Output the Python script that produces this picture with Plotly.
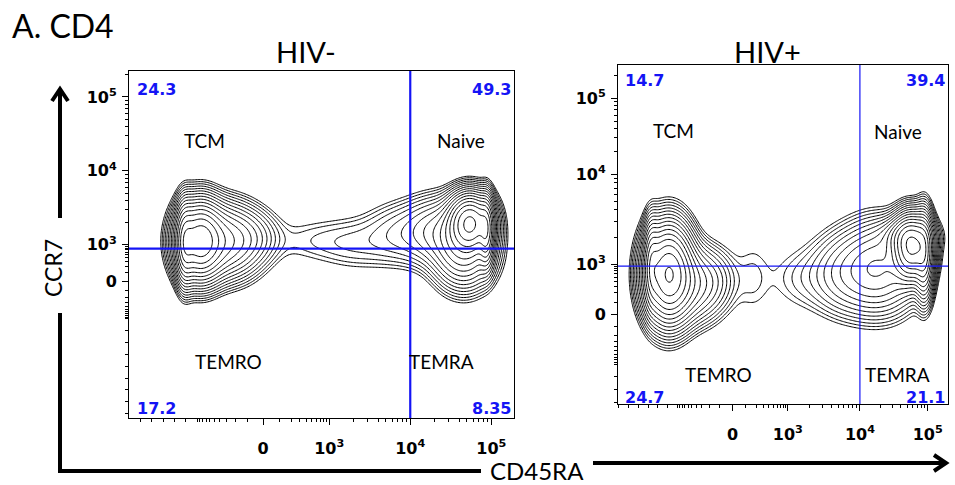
import numpy as np
import plotly.graph_objects as go

W, H = 955, 485

# ---------------- axis data (display units) ----------------
tick_text = ["0", "10<sup>3</sup>", "10<sup>4</sup>", "10<sup>5</sup>"]
left_x_ticks = [2.185, 3.0, 4.0, 5.0]
left_y_ticks = [2.5, 3.0, 4.0, 5.0]
right_x_ticks = [2.21, 3.0, 4.03, 5.0]
right_y_ticks = [2.375, 3.0, 4.125, 5.075]
left_x_range = [0.53, 5.28]
left_y_range = [0.66, 5.35]
right_x_range = [0.57, 5.29]
right_y_range = [1.25, 5.49]

# quadrant gates (x, y)
left_gate = [4.0, 2.95]
right_gate = [4.03, 2.975]

# quadrant frequencies: TL, TR, BL, BR
left_freq = ["24.3", "49.3", "17.2", "8.35"]
right_freq = ["14.7", "39.4", "24.7", "21.1"]
pop_labels = ["TCM", "Naive", "TEMRO", "TEMRA"]
panel_titles = ["HIV-", "HIV+"]

# ---------------- population components (display units) ----------------
left_cx = [1.22, 1.40, 1.68, 2.05, 2.80, 3.35, 3.85, 4.35, 4.74, 4.66, 4.94]
left_cy = [3.02, 3.05, 3.05, 3.10, 3.06, 3.02, 3.15, 3.18, 3.30, 2.95, 3.18]
left_sx = [0.06, 0.15, 0.25, 0.20, 0.35, 0.30, 0.25, 0.25, 0.14, 0.20, 0.05]
left_sy = [0.28, 0.27, 0.26, 0.20, 0.19, 0.22, 0.24, 0.25, 0.20, 0.28, 0.24]
left_w = [0.45, 1.00, 0.35, 0.05, 0.015, 0.022, 0.04, 0.13, 1.20, 0.30, 0.55]

right_cx = [1.05, 1.29, 1.60, 1.95, 2.50, 3.20, 3.80, 4.30, 4.77, 4.95, 4.70]
right_cy = [3.00, 2.88, 2.75, 2.80, 2.83, 2.82, 2.88, 2.95, 3.20, 3.10, 3.35]
right_sx = [0.06, 0.18, 0.25, 0.20, 0.17, 0.30, 0.28, 0.30, 0.14, 0.07, 0.20]
right_sy = [0.28, 0.31, 0.25, 0.22, 0.32, 0.25, 0.28, 0.30, 0.21, 0.28, 0.12]
right_w = [0.25, 1.00, 0.18, 0.03, 0.0115, 0.015, 0.07, 0.20, 1.00, 0.40, 0.20]


def density(xr, yr, cx, cy, sx, sy, w, n=260):
    gx = np.linspace(xr[0], xr[1], n)
    gy = np.linspace(yr[0], yr[1], n)
    X, Y = np.meshgrid(gx, gy)
    d = np.zeros_like(X)
    for a, b, s, t, k in zip(cx, cy, sx, sy, w):
        d += k * np.exp(-((X - a) ** 2 / (2 * s * s) + (Y - b) ** 2 / (2 * t * t)))
    z = np.log10(np.maximum(d / d.max(), 1e-8))
    return gx, gy, z


def px(x):
    return x / W


def py(y):
    return 1 - y / H


def minor_ticks(p0, p3, p4, p5, lo, hi, far_step):
    t = []
    span = p3 - p0
    for v in range(100, 1000, 100):
        f = np.arcsinh(v / 150) / np.arcsinh(1000 / 150)
        t.append(p0 + span * f)
        t.append(p0 - span * f)
    for k in range(2, 10):
        t.append(p3 + (p4 - p3) * np.log10(k))
        t.append(p4 + (p5 - p4) * np.log10(k))
        t.append(p5 + (p5 - p4) * np.log10(k))
    q = p0 - span
    while q > lo:
        t.append(q)
        q -= far_step
    return [v for v in t if lo < v < hi]


fig = go.Figure()

panels = [
    dict(xr=left_x_range, yr=left_y_range, cx=left_cx, cy=left_cy, sx=left_sx, sy=left_sy, w=left_w,
         xa="x", ya="y"),
    dict(xr=right_x_range, yr=right_y_range, cx=right_cx, cy=right_cy, sx=right_sx, sy=right_sy, w=right_w,
         xa="x2", ya="y2"),
]
for p in panels:
    gx, gy, z = density(p["xr"], p["yr"], p["cx"], p["cy"], p["sx"], p["sy"], p["w"])
    fig.add_trace(go.Contour(
        x=gx, y=gy, z=z, xaxis=p["xa"], yaxis=p["ya"],
        contours=dict(start=-2.15, end=-0.03, size=0.14, coloring="lines"),
        line=dict(width=1, smoothing=1),
        colorscale=[[0, "black"], [1, "black"]], showscale=False, hoverinfo="skip",
    ))

tick_font = dict(family="DejaVu Sans", size=16, color="black", weight="bold")


def axis(domain, rng, tickvals, anchor, minor_vals, standoff):
    return dict(domain=domain, range=rng, anchor=anchor, tickmode="array", tickvals=tickvals,
                ticktext=tick_text, ticks="outside", ticklen=6, tickwidth=1, tickcolor="black",
                showline=True, linecolor="black", linewidth=1, mirror=True, showgrid=False,
                zeroline=False, tickfont=tick_font, fixedrange=True, ticklabelstandoff=standoff,
                minor=dict(tickmode="array", tickvals=minor_vals, ticks="outside", ticklen=3,
                           tickwidth=1, tickcolor="black", showgrid=False))


lx = minor_ticks(*left_x_ticks, left_x_range[0], left_x_range[1], 0.14)
ly = minor_ticks(*left_y_ticks, left_y_range[0], left_y_range[1], 0.16)
rx = minor_ticks(*right_x_ticks, right_x_range[0], right_x_range[1], 0.14)
ry = minor_ticks(*right_y_ticks, right_y_range[0], right_y_range[1], 0.16)

fig.update_layout(
    width=W, height=H, margin=dict(l=0, r=0, t=0, b=0),
    paper_bgcolor="white", plot_bgcolor="white", showlegend=False,
    xaxis=axis([129 / W, 514 / W], left_x_range, left_x_ticks, "y", lx, 10),
    yaxis=axis([1 - 418 / H, 1 - 71 / H], left_y_range, left_y_ticks, "x", ly, 2),
    xaxis2=axis([618 / W, 948 / W], right_x_range, right_x_ticks, "y2", rx, 10),
    yaxis2=axis([1 - 404 / H, 1 - 65 / H], right_y_range, right_y_ticks, "x2", ry, 2),
)

blue = "#1414f5"
for (gxv, gyv), xa, ya, xr, yr, lw in [(left_gate, "x", "y", left_x_range, left_y_range, 2.2),
                                        (right_gate, "x2", "y2", right_x_range, right_y_range, 1.2)]:
    fig.add_shape(type="line", xref=xa, yref=ya, x0=gxv, x1=gxv, y0=yr[0], y1=yr[1],
                  line=dict(color=blue, width=lw))
    fig.add_shape(type="line", xref=xa, yref=ya, x0=xr[0], x1=xr[1], y0=gyv, y1=gyv,
                  line=dict(color=blue, width=lw))

ann = []
num_font = dict(family="DejaVu Sans", size=16, color=blue, weight="bold")
lab_font = dict(family="Lato", size=19, color="black")
for txt, (x, y), xan in zip(left_freq, [(135, 89), (513, 89), (135, 408), (513, 408)],
                            ["left", "right", "left", "right"]):
    ann.append(dict(text=txt, x=px(x), y=py(y), xanchor=xan, yanchor="middle", font=num_font))
for txt, (x, y), xan in zip(right_freq, [(623, 81), (947, 81), (623, 397), (947, 397)],
                            ["left", "right", "left", "right"]):
    ann.append(dict(text=txt, x=px(x), y=py(y), xanchor=xan, yanchor="middle", font=num_font))
for txt, (x, y) in zip(pop_labels, [(204, 140), (461, 140), (228, 361), (441, 361)]):
    ann.append(dict(text=txt, x=px(x), y=py(y), xanchor="center", yanchor="middle", font=lab_font))
for txt, (x, y) in zip(pop_labels, [(673, 131), (898, 132), (718, 374), (897, 374)]):
    ann.append(dict(text=txt, x=px(x), y=py(y), xanchor="center", yanchor="middle", font=lab_font))

ann.append(dict(text="A. CD4", x=px(10), y=py(25), xanchor="left", yanchor="middle",
                font=dict(family="Lato", size=32, color="black")))
for txt, x in zip(panel_titles, [306, 767]):
    ann.append(dict(text=txt, x=px(x), y=py(52), xanchor="center", yanchor="middle",
                    font=dict(family="Lato", size=29, color="black")))
ann.append(dict(text="CCR7", x=px(53), y=py(268), xanchor="center", yanchor="middle", textangle=-90,
                font=dict(family="Lato", size=23, color="black")))
ann.append(dict(text="CD45RA", x=px(537), y=py(470), xanchor="center", yanchor="middle",
                font=dict(family="Lato", size=24, color="black")))
for a in ann:
    a.update(xref="paper", yref="paper", showarrow=False)
fig.update_layout(annotations=ann)


def path(points):
    return "M " + " L ".join(f"{px(x):.5f},{py(y):.5f}" for x, y in points)


arrow_line = dict(color="black", width=4)
fig.add_shape(type="path", xref="paper", yref="paper", path=path([(60, 218), (60, 90)]), line=arrow_line)
fig.add_shape(type="path", xref="paper", yref="paper", path=path([(52, 101), (60, 89), (68, 101)]),
              line=arrow_line)
fig.add_shape(type="path", xref="paper", yref="paper", path=path([(60, 313), (60, 471), (481, 471)]),
              line=arrow_line)
fig.add_shape(type="path", xref="paper", yref="paper", path=path([(593, 463), (945, 463)]), line=arrow_line)
fig.add_shape(type="path", xref="paper", yref="paper", path=path([(934, 455), (946, 463), (934, 471)]),
              line=arrow_line)

fig.write_html("out.html", config={"displayModeBar": False},
               post_script="document.body.style.margin='0';document.body.style.overflow='hidden';")
